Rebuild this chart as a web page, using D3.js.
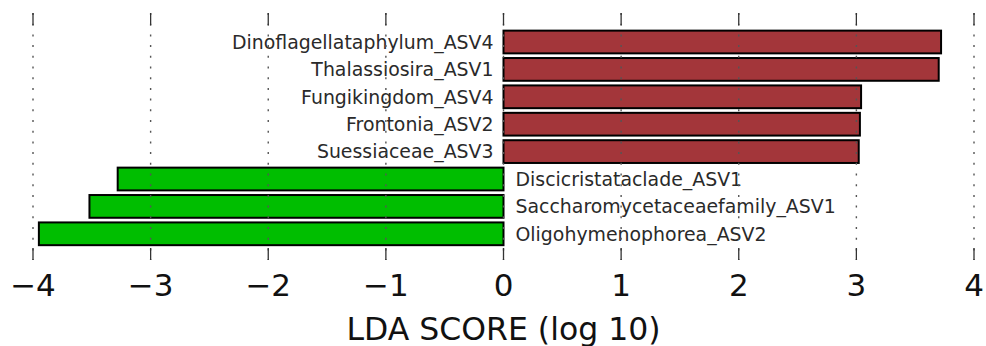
<!DOCTYPE html>
<html>
<head>
<meta charset="utf-8">
<script src="https://cdn.jsdelivr.net/npm/d3@7"></script>
<style>
  html, body { margin: 0; padding: 0; background: #fff; }
  svg { display: block; }
  text { font-family: "DejaVu Sans", sans-serif; }
</style>
</head>
<body>
<svg id="chart" width="986" height="346"></svg>
<script>
// Taxa in display order (top to bottom)
const taxa = [
  "Dinoflagellataphylum_ASV4",
  "Thalassiosira_ASV1",
  "Fungikingdom_ASV4",
  "Frontonia_ASV2",
  "Suessiaceae_ASV3",
  "Discicristataclade_ASV1",
  "Saccharomycetaceaefamily_ASV1",
  "Oligohymenophorea_ASV2"
];
// LDA scores (log10); negative values belong to the second group
const ldaScores = [3.72, 3.70, 3.04, 3.03, 3.02, -3.28, -3.52, -3.95];
const groups = ["up", "up", "up", "up", "up", "down", "down", "down"];
const groupColors = { up: "#A3363A", down: "#00BE00" };
const xTicks = [-4, -3, -2, -1, 0, 1, 2, 3, 4];
const xLabel = "LDA SCORE (log 10)";

(function () {
  const rows = taxa.map((name, i) => ({ name, score: ldaScores[i], group: groups[i] }));

  const svg = d3.select("#chart");
  const plotTop = 13, plotBottom = 260;

  const x = d3.scaleLinear().domain([-4, 4]).range([33, 974]);
  const y = d3.scaleBand()
    .domain(taxa)
    .range([28.3, 247.5])
    .paddingInner(0.17)
    .paddingOuter(0.085);

  // Bars
  svg.append("g").selectAll("rect")
    .data(rows)
    .join("rect")
    .attr("x", d => x(Math.min(0, d.score)))
    .attr("width", d => Math.abs(x(d.score) - x(0)))
    .attr("y", d => y(d.name))
    .attr("height", y.bandwidth())
    .attr("fill", d => groupColors[d.group])
    .attr("stroke", "#000")
    .attr("stroke-width", 2);

  // Taxon labels on the opposite side of the zero line
  svg.append("g").selectAll("text")
    .data(rows)
    .join("text")
    .attr("x", d => d.score >= 0 ? x(0) - 10 : x(0) + 12)
    .attr("y", d => y(d.name) + y.bandwidth() / 2)
    .attr("dy", "0.36em")
    .attr("text-anchor", d => d.score >= 0 ? "end" : "start")
    .attr("font-size", 18.9)
    .attr("fill", "#2a2a2a")
    .text(d => d.name);

  // Dotted vertical grid over the bars
  svg.append("g").selectAll("line")
    .data(xTicks)
    .join("line")
    .attr("x1", d => x(d)).attr("x2", d => x(d))
    .attr("y1", plotTop).attr("y2", plotBottom)
    .attr("stroke", "#555")
    .attr("stroke-width", 1.4)
    .attr("stroke-dasharray", "2,8.7");

  // Inward ticks on top and bottom edges
  const tickLen = 12;
  const ticks = svg.append("g").attr("stroke", "#333").attr("stroke-width", 1.3);
  ticks.selectAll("line.top")
    .data(xTicks).join("line").attr("class", "top")
    .attr("x1", d => x(d)).attr("x2", d => x(d))
    .attr("y1", plotTop).attr("y2", plotTop + tickLen);
  ticks.selectAll("line.bot")
    .data(xTicks).join("line").attr("class", "bot")
    .attr("x1", d => x(d)).attr("x2", d => x(d))
    .attr("y1", plotBottom - tickLen).attr("y2", plotBottom);

  // Tick labels
  svg.append("g").selectAll("text")
    .data(xTicks)
    .join("text")
    .attr("x", d => x(d))
    .attr("y", 296)
    .attr("text-anchor", "middle")
    .attr("font-size", 31)
    .attr("fill", "#111")
    .text(d => d < 0 ? "\u2212" + Math.abs(d) : String(d));

  // Axis title
  svg.append("text")
    .attr("x", x(0))
    .attr("y", 340)
    .attr("text-anchor", "middle")
    .attr("font-size", 31.5)
    .attr("fill", "#111")
    .text(xLabel);
})();
</script>
</body>
</html>
